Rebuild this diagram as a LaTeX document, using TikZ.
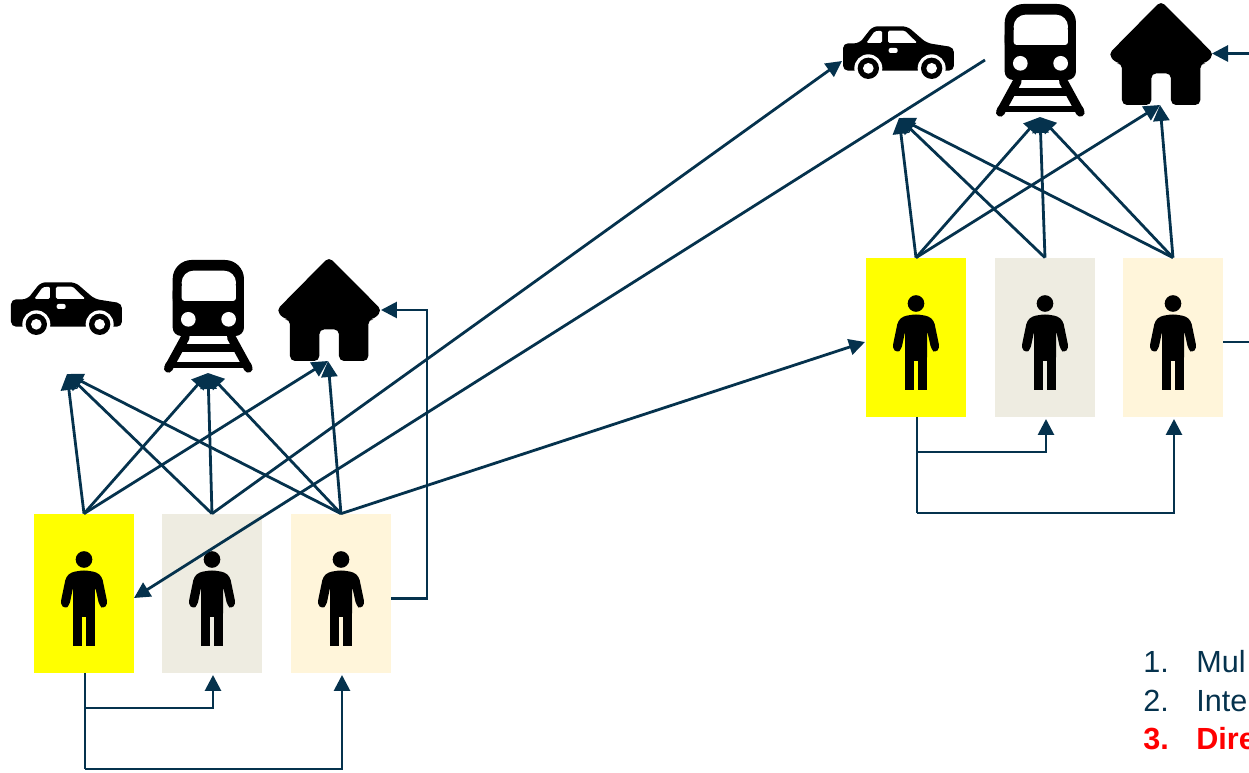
\documentclass[tikz,border=0pt]{standalone}
\usepackage{fontspec}
\setmainfont{Liberation Sans}
\usetikzlibrary{arrows.meta}
\definecolor{navy}{HTML}{05324D}
\definecolor{boxa}{HTML}{FFFF00}
\definecolor{boxb}{HTML}{EEECE1}
\definecolor{boxc}{HTML}{FFF5DA}
\tikzset{
  personbox/.style={rectangle,draw=none,inner sep=0pt,minimum width=2cm,minimum height=3.18cm},
  link/.style={draw=navy,line width=0.056cm,-{Triangle[length=0.32cm,width=0.32cm]}},
  plainline/.style={draw=navy,line width=0.056cm},
  listtext/.style={inner sep=0pt,anchor=base west,font=\fontsize{17.4pt}{22pt}\selectfont,text=navy},
  pics/person/.style={code={
    \begin{scope}[x=0.00667cm,y=-0.00667cm]
      \fill[black] (0,-102) circle (25);
      \fill[black,rounded corners=0.07cm] (-54,-50) -- (-38,-64) -- (0,-70) -- (38,-64) -- (54,-50) -- (71,32) -- (58,46) -- (46,36) -- (33,-22) -- (33,70) -- (-32,70) -- (-32,-22) -- (-44,36) -- (-57,46) -- (-71,32) -- cycle;
      \fill[black] (-32,40) rectangle (-6,157);
      \fill[black] (7,40) rectangle (33,157);
      \fill[black] (-32,-20) rectangle (33,43);
    \end{scope}
  }},
  pics/iconset/.style={code={
    \begin{scope}[x=0.00667cm,y=-0.00667cm,shift={(0,750)}]
      % car
      \fill[black,rounded corners=0.1cm] (33,148) -- (82,148) -- (122,97) -- (226,97) -- (284,147) -- (366,160) -- (366,230) -- (33,230) -- cycle;
      \fill[white] (109,223) circle (42) (299,223) circle (42);
      \fill[white] (60,232) rectangle (350,262);
      \fill[black] (109,223) circle (32) (299,223) circle (32);
      \fill[white] (109,223) circle (16) (299,223) circle (16);
      \fill[white,rounded corners=0.03cm] (103,147) -- (128,112) -- (150,110) -- (150,147) -- cycle;
      \fill[white,rounded corners=0.03cm] (168,110) -- (218,110) -- (256,147) -- (168,147) -- cycle;
      \fill[white,rounded corners=0.04cm] (170,162) rectangle (197,177);
      % train
      \draw[black,line width=0.175cm,line cap=round] (505,355) -- (556,262) (745,355) -- (694,262);
      \draw[black,line width=0.16cm] (530,293) -- (720,293);
      \draw[black,line width=0.13cm,line cap=round] (505,345) -- (745,345);
      \fill[black,rounded corners=0.38cm] (518,200) -- (518,30) -- (732,30) -- (732,200) -- cycle;
      \fill[black,rounded corners=0.17cm] (518,100) -- (518,258) -- (732,258) -- (732,100) -- cycle;
      \fill[white,rounded corners=0.24cm] (545,135) -- (545,62) -- (708,62) -- (708,135) -- cycle;
      \fill[white,rounded corners=0.06cm] (545,100) -- (545,153) -- (708,153) -- (708,100) -- cycle;
      \fill[white] (565,208) circle (22) (686,208) circle (22);
      % house
      \fill[black,rounded corners=0.1cm] (987,21) -- (1146,181) -- (1122,208) -- (1105,208) -- (1105,333) -- (1017,333) -- (1017,238) -- (958,238) -- (958,333) -- (870,333) -- (870,208) -- (853,208) -- (829,181) -- cycle;
    \end{scope}
  }},
}
\begin{document}
\begin{tikzpicture}[x=0.02cm,y=-0.02cm]
\useasboundingbox (0,0) rectangle (1249,773);
\clip (0,0) rectangle (1249,773);
\foreach \g/\dx/\dy/\ax/\bx/\cx in {L/0/0/84/212/341,R/832/-256/916/1045/1173}{
  \node[personbox,fill=boxa] (\g a) at (\ax,593.5+\dy) {};
  \node[personbox,fill=boxb] (\g b) at (\bx,593.5+\dy) {};
  \node[personbox,fill=boxc] (\g c) at (\cx,593.5+\dy) {};
  \pic at (\g a) {person};
  \pic at (\g b) {person};
  \pic at (\g c) {person};
  \pic at (\dx,\dy) {iconset};
  \coordinate (\g car) at (67+\dx,374+\dy);
  \coordinate (\g train) at (208+\dx,373+\dy);
  \coordinate (\g house) at (328+\dx,361+\dy);
  \coordinate (\g ab) at (\ax+1,708+\dy);
  \coordinate (\g ac) at (\ax+1,769+\dy);
  \coordinate (\g bt) at (\bx+1,675+\dy);
  \coordinate (\g ct) at (\cx+1,675+\dy);
  \foreach \s in {a,b,c}{
    \foreach \t in {car,train,house}{
      \ifnum\pdfstrcmp{\s\t}{bhouse}=0\else
        \draw[link] (\g\s.north) -- (\g\t);
      \fi
    }
  }
  \draw[plainline] (\ax+1,673+\dy) -- (\g ac);
  \draw[link] (\g ab) -| (\g bt);
  \draw[link] (\g ac) -| (\g ct);
}
% connections between the two groups
\coordinate (carin) at (842,61);
\coordinate (trainout) at (985,60);
\coordinate (aIn) at (134,598);
\coordinate (Rin) at (865,342);
\coordinate (Lcout) at (391,598.5);
\coordinate (Lcturn) at (427,598.5);
\coordinate (Lhin) at (381,310);
\coordinate (Rcout) at (1223,342);
\coordinate (Redgeout) at (1249,342);
\coordinate (Redgein) at (1249,53.5);
\coordinate (Rhin) at (1212,53.5);
\draw[link] (Lb.north) -- (carin);
\draw[link] (trainout) -- (aIn);
\draw[link] (Lc.north) -- (Rin);
\draw[link] (Lcout) -- (Lcturn) -- (Lcturn |- Lhin) -- (Lhin);
\draw[plainline] (Rcout) -- (Redgeout);
\draw[link] (Redgein) -- (Rhin);
% list
\node[listtext] (n1) at (1143,672.7) {1.};
\node[listtext] (n2) at (1143,711.7) {2.};
\node[listtext,text=red,font=\fontsize{17.4pt}{22pt}\selectfont\bfseries] (n3) at (1143,750) {3.};
\node[listtext] (t1) at (1196,672.7) {Mul};
\node[listtext] (t2) at (1196,711.7) {Inte};
\node[listtext,text=red,font=\fontsize{17.4pt}{22pt}\selectfont\bfseries] (t3) at (1196,750) {Dire};
\end{tikzpicture}
\end{document}
